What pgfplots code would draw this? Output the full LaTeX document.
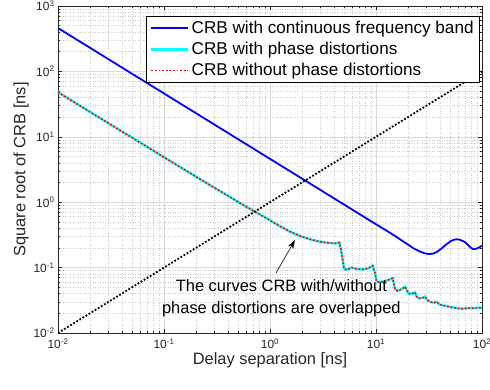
\documentclass[border=0pt]{standalone}
\usepackage{fontspec}
\setmainfont{Liberation Sans}
\usepackage{pgfplots}
\pgfplotsset{compat=1.18}
\usepackage{pgfplotstable}
\usetikzlibrary{arrows.meta}

\definecolor{axgray}{gray}{0.15}
\definecolor{gridmaj}{gray}{0.86}
\definecolor{gridmin}{gray}{0.80}
\definecolor{crbblue}{rgb}{0,0,1}
\definecolor{crbcyan}{rgb}{0,1,1}
\definecolor{crbred}{rgb}{1,0,0}

% CRB for the continuous frequency band
\pgfplotstableread{
x y
0.01 460
0.1 46
1 4.6
10 0.46
12 0.385
14 0.33
16.8 0.272
19 0.238
22.5 0.198
26 0.176
29 0.165
31.8 0.161
35 0.164
38 0.176
41.6 0.197
46 0.226
51 0.255
55 0.268
57.7 0.271
61 0.268
65 0.258
69.2 0.244
74 0.222
78 0.203
82.8 0.191
87 0.193
92 0.200
96 0.208
100 0.215
}\contband

% CRB with / without phase distortions (the two coincide)
\pgfplotstableread{
x y
0.01 48
0.03 16.1
0.0738 6.6
0.1 4.88
0.2 2.46
0.3 1.66
0.5 1.01
0.72 0.716
1.0 0.53
1.24 0.43
1.545 0.354
1.92 0.305
2.4 0.27
2.96 0.249
3.6 0.238
4.2 0.235
4.51 0.241
4.68 0.186
4.85 0.131
4.99 0.0975
5.29 0.092
5.9 0.100
6.58 0.095
7.59 0.094
8.47 0.0975
9.3 0.107
9.79 0.082
10.14 0.061
10.8 0.060
12 0.062
13.5 0.066
14.4 0.069
15.1 0.047
16 0.044
17.5 0.047
18.8 0.051
19.5 0.045
20.2 0.040
22 0.040
23.3 0.042
24 0.037
25 0.034
27 0.034
29 0.036
30.5 0.032
32.3 0.030
35 0.029
37.3 0.030
40 0.027
44.8 0.026
50 0.025
57.7 0.024
65 0.0235
75 0.024
85 0.024
95.6 0.0245
100 0.024
}\phasecrb

\begin{document}
\begin{tikzpicture}
\path[use as bounding box] (-58bp,-57bp) rectangle (432bp,333bp);
\begin{axis}[
  scale only axis,
  width=424bp, height=327bp,
  xmode=log, ymode=log,
  xmin=0.01, xmax=100, ymin=0.01, ymax=1000,
  axis line style={axgray, line width=0.6bp},
  every tick/.style={axgray, line width=0.5bp},
  tick align=inside,
  major tick length=4.5bp,
  minor tick length=2.5bp,
  grid=both,
  major grid style={gridmaj, line width=0.5bp},
  minor grid style={gridmin, line width=0.5bp, dotted},
  xtick={0.01,0.1,1,10,100},
  xticklabels={10\textsuperscript{-2},10\textsuperscript{-1},10\textsuperscript{0},10\textsuperscript{1},10\textsuperscript{2}},
  ytick={0.01,0.1,1,10,100,1000},
  yticklabels={10\textsuperscript{-2},10\textsuperscript{-1},10\textsuperscript{0},10\textsuperscript{1},10\textsuperscript{2},10\textsuperscript{3}},
  tick label style={font=\fontsize{12}{14}\selectfont, text=axgray},
  xticklabel style={yshift=-2.5bp},
  xlabel={Delay separation [ns]},
  ylabel={Square root of CRB [ns]},
  label style={font=\fontsize{16.5}{19}\selectfont, text=axgray},
  xlabel style={yshift=3bp},
  ylabel style={yshift=-2bp},
  legend image code/.code={\draw[#1] (0bp,0bp) -- (37bp,0bp);},
  legend cell align=left,
  legend style={at={(0.995,0.969)}, anchor=north east, draw=black,
    line width=0.5bp, fill=white, font=\fontsize{17.2}{19}\selectfont,
    inner xsep=4bp, inner ysep=3bp, row sep=3.2bp},
]
\addplot[crbblue, line width=1.8bp] table {\contband};
\addlegendentry{CRB with continuous frequency band}
\addplot[crbcyan, line width=2.4bp] table {\phasecrb};
\addlegendentry{CRB with phase distortions}
\addplot[crbred, line width=1.5bp, dash pattern=on 1.8bp off 1.8bp] table {\phasecrb};
\addlegendentry{CRB without phase distortions}
\addplot[black, line width=1.8bp, dash pattern=on 1.8bp off 1.8bp, forget plot] coordinates {(0.01,0.01) (100,100)};

\draw[-{Stealth[length=9bp,width=6bp]}, line width=0.6bp] (axis cs:1.14,0.0826) -- (axis cs:1.72,0.264);
\node[align=center, font=\fontsize{16.5}{23}\selectfont, text=black] at (axis cs:1.28,0.034)
  {The curves CRB with/without\\phase distortions are overlapped};
\end{axis}
\end{tikzpicture}
\end{document}
